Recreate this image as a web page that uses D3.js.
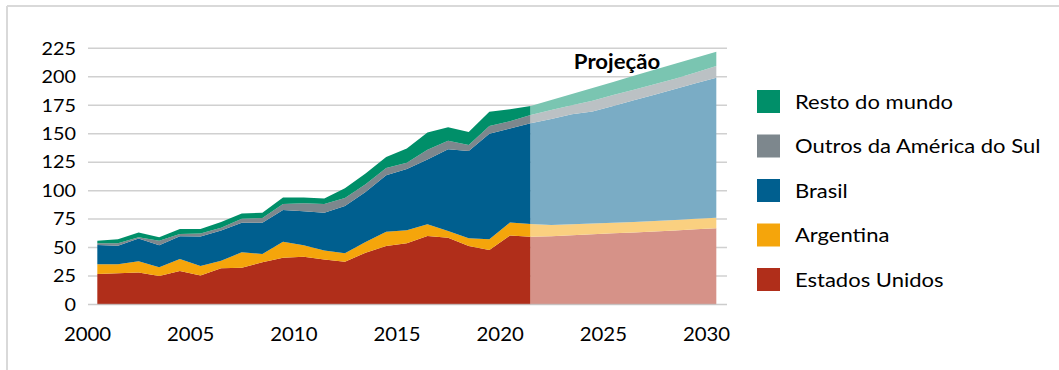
<!DOCTYPE html>
<html>
<head>
<meta charset="utf-8">
<script src="https://cdn.jsdelivr.net/npm/d3@7"></script>
<style>
  html, body { margin: 0; padding: 0; background: #fff; }
  svg { display: block; font-family: Lato, "Open Sans", sans-serif; }
</style>
</head>
<body>
<svg id="chart" width="1059" height="370"></svg>
<script>
// Series, bottom to top of the stack
const seriesKeys = ["eua", "argentina", "brasil", "outros", "resto"];
const seriesLabels = {
  resto: "Resto do mundo",
  outros: "Outros da América do Sul",
  brasil: "Brasil",
  argentina: "Argentina",
  eua: "Estados Unidos"
};
const seriesColors = {
  eua: "#b02e1a",
  argentina: "#f5a50b",
  brasil: "#005f8f",
  outros: "#7d878d",
  resto: "#008f69"
};

// Historical values, 2000–2021
const histYears = [2000, 2001, 2002, 2003, 2004, 2005, 2006, 2007, 2008, 2009, 2010,
                   2011, 2012, 2013, 2014, 2015, 2016, 2017, 2018, 2019, 2020, 2021];
const histEua       = [26.8, 27.4, 28.0, 25.0, 29.4, 25.4, 31.8, 32.3, 37.0, 41.0, 42.0,
                       39.5, 37.5, 45.5, 51.3, 53.8, 60.1, 58.7, 51.4, 47.9, 60.5, 59.5];
const histArgentina = [8.6, 8.0, 10.0, 7.8, 10.6, 8.4, 6.7, 13.5, 7.3, 14.0, 10.0,
                       8.0, 7.5, 9.4, 12.6, 11.4, 10.3, 5.9, 6.7, 9.4, 11.5, 11.2];
const histBrasil    = [16.9, 16.2, 19.9, 19.2, 20.0, 26.0, 26.5, 26.0, 27.5, 28.0, 30.0,
                       33.1, 41.5, 43.8, 49.6, 53.7, 57.0, 71.7, 76.7, 92.7, 82.5, 88.4];
const histOutros    = [1.5, 2.1, 1.1, 4.0, 2.0, 2.6, 2.5, 3.4, 4.2, 5.3, 7.0,
                       7.7, 7.0, 6.9, 6.3, 5.6, 8.4, 7.6, 5.3, 6.8, 6.5, 7.3];
const histResto     = [2.1, 3.6, 4.3, 3.0, 4.3, 4.0, 5.0, 4.8, 4.5, 5.7, 5.0,
                       4.9, 8.5, 9.4, 9.7, 12.5, 15.2, 11.7, 11.4, 12.5, 10.5, 7.9];

// Projection, 2021–2030
const projYears = [2021, 2022, 2023, 2024, 2025, 2026, 2027, 2028, 2029, 2030];
const projEua       = [59.5, 60.0, 60.8, 61.7, 62.5, 63.3, 64.2, 65.0, 66.0, 66.9];
const projArgentina = [11.2, 9.9, 9.7, 9.5, 9.3, 9.2, 9.1, 9.2, 9.2, 9.3];
const projBrasil    = [88.4, 93.1, 96.5, 98.2, 102.5, 106.8, 111.0, 115.1, 119.1, 123.0];
const projOutros    = [7.3, 7.8, 8.0, 9.6, 9.7, 9.3, 9.1, 8.9, 9.5, 10.2];
const projResto     = [7.9, 8.8, 9.9, 11.2, 11.5, 12.2, 12.7, 13.2, 12.9, 12.6];

const xTicks = [2000, 2005, 2010, 2015, 2020, 2025, 2030];
const yTicks = [0, 25, 50, 75, 100, 125, 150, 175, 200, 225];
const projLabel = "Projeção";

function rows(years, eua, arg, bra, out, res) {
  return years.map((year, i) => ({
    year, eua: eua[i], argentina: arg[i], brasil: bra[i], outros: out[i], resto: res[i]
  }));
}
const histRows = rows(histYears, histEua, histArgentina, histBrasil, histOutros, histResto);
const projRows = rows(projYears, projEua, projArgentina, projBrasil, projOutros, projResto);

const svg = d3.select("#chart");
const textStretch = "scale(1.1,1)";

// Outer frame
svg.append("line").attr("x1", 7).attr("x2", 1059).attr("y1", 6).attr("y2", 6)
  .attr("stroke", "#d9d9d9").attr("stroke-width", 2);
svg.append("line").attr("x1", 7).attr("x2", 7).attr("y1", 6).attr("y2", 370)
  .attr("stroke", "#d9d9d9").attr("stroke-width", 2);

const plotLeft = 88, plotRight = 727;
const x = d3.scaleLinear().domain([2000, 2030]).range([87, 706]);
const y = d3.scaleLinear().domain([0, 225]).range([304.5, 48.3]);
// annual values are plotted at mid-year
const xPos = d => x(d.data.year + 0.5);

// Gridlines
svg.append("g").selectAll("line").data(yTicks.filter(t => t > 0)).join("line")
  .attr("x1", plotLeft).attr("x2", plotRight)
  .attr("y1", d => y(d)).attr("y2", d => y(d))
  .attr("stroke", "#d0d0d0").attr("stroke-width", 1.5);

const stack = d3.stack().keys(seriesKeys);
const area = d3.area().x(xPos).y0(d => y(d[0])).y1(d => y(d[1]));

// Historical stacked areas
svg.append("g").selectAll("path").data(stack(histRows)).join("path")
  .attr("d", area)
  .attr("fill", d => seriesColors[d.key]);

// Projected stacked areas in lighter tints
svg.append("g").selectAll("path").data(stack(projRows)).join("path")
  .attr("d", area)
  .attr("fill", d => d3.interpolateRgb(seriesColors[d.key], "#ffffff")(0.48));

// Baseline
svg.append("line").attr("x1", plotLeft).attr("x2", plotRight)
  .attr("y1", y(0)).attr("y2", y(0))
  .attr("stroke", "#bfbfbf").attr("stroke-opacity", 0.8).attr("stroke-width", 1.5);

// Y axis labels
const yAxis = d3.axisLeft(y).tickValues(yTicks).tickSize(0).tickPadding(0);
svg.append("g").attr("transform", "translate(76,0)").call(yAxis)
  .call(g => g.select(".domain").remove())
  .call(g => g.selectAll("text").attr("font-size", 18).attr("fill", "#000")
    .attr("font-family", "Lato, 'Open Sans', sans-serif")
    .attr("transform", textStretch));

// X axis labels
const xAxis = d3.axisBottom(x).tickValues(xTicks).tickFormat(d3.format("d"))
  .tickSize(0).tickPadding(0);
svg.append("g").attr("transform", "translate(0,328)").call(xAxis)
  .call(g => g.select(".domain").remove())
  .call(g => g.selectAll("text").attr("font-size", 18.5).attr("fill", "#000")
    .attr("font-family", "Lato, 'Open Sans', sans-serif")
    .attr("transform", textStretch));

// Projection label
svg.append("g").attr("transform", "translate(617,69)")
  .append("text").attr("text-anchor", "middle")
  .attr("font-size", 20.5).attr("font-weight", "bold").attr("fill", "#000")
  .attr("transform", "scale(1.08,1)")
  .text(projLabel);

// Legend
const legendOrder = ["resto", "outros", "brasil", "argentina", "eua"];
const legend = svg.append("g").selectAll("g").data(legendOrder).join("g")
  .attr("transform", (d, i) => `translate(757,${90 + i * 44.5})`);
legend.append("rect").attr("width", 23).attr("height", 23)
  .attr("fill", d => seriesColors[d]);
legend.append("g").attr("transform", "translate(38,18.5)")
  .append("text")
  .attr("font-size", 20).attr("fill", "#000")
  .attr("transform", textStretch)
  .text(d => seriesLabels[d]);
</script>
</body>
</html>
